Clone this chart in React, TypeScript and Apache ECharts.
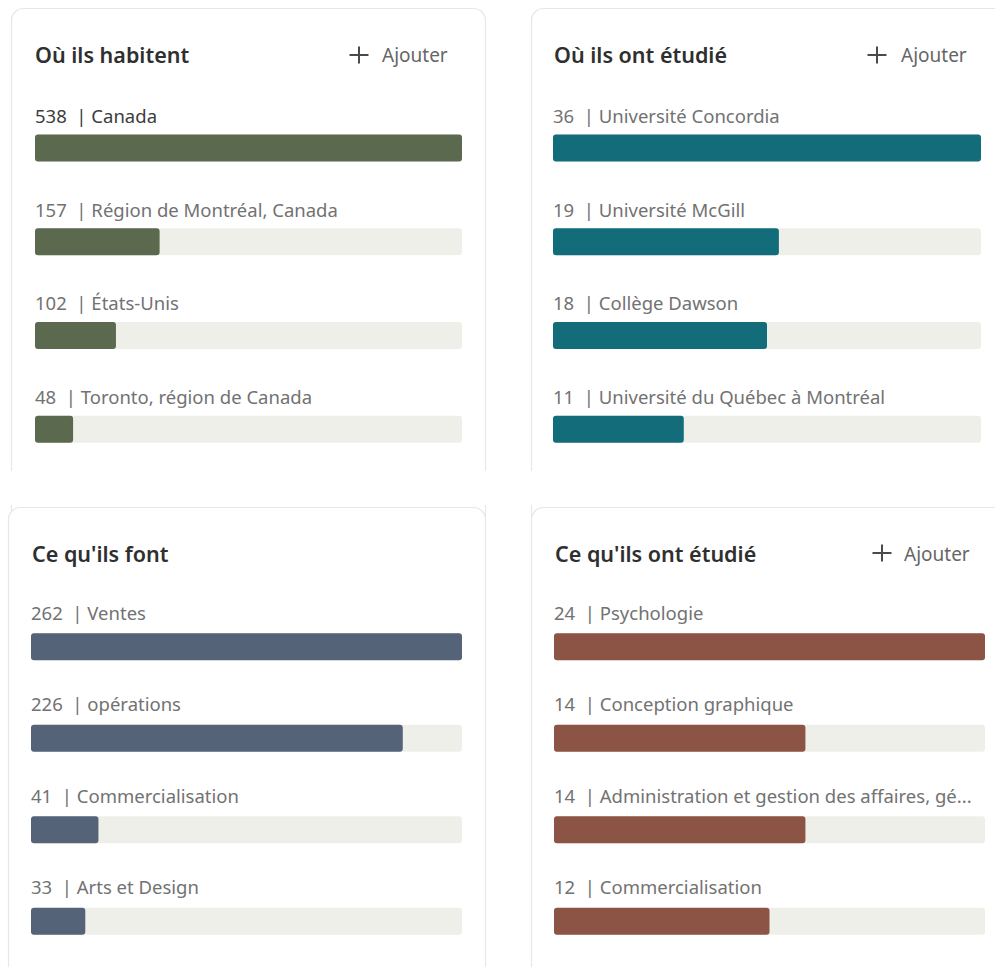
import React, { useEffect, useRef } from "react";
import * as echarts from "echarts";

const cats1 = ["Canada", "Région de Montréal, Canada", "États-Unis", "Toronto, région de Canada"];
const vals1 = [538, 157, 102, 48];
const cats2 = ["Université Concordia", "Université McGill", "Collège Dawson", "Université du Québec à Montréal"];
const vals2 = [36, 19, 18, 11];
const cats3 = ["Ventes", "opérations", "Commercialisation", "Arts et Design"];
const vals3 = [262, 226, 41, 33];
const cats4 = ["Psychologie", "Conception graphique", "Administration et gestion des affaires, gé...", "Commercialisation"];
const vals4 = [24, 14, 14, 12];
const titles = ["Où ils habitent", "Où ils ont étudié", "Ce qu'ils font", "Ce qu'ils ont étudié"];
const addLabel = "Ajouter";

const FONT = "'Noto Sans', 'Open Sans', sans-serif";
const colors = ["#5b6a4f", "#136c79", "#546378", "#8b5444"];
const TRACK = "#efefea";

const grids = [
  { left: 35, top: 101, width: 427, height: 375 },
  { left: 553, top: 101, width: 428, height: 375 },
  { left: 31, top: 601, width: 431, height: 379 },
  { left: 554, top: 601, width: 431, height: 379 },
];
const labelOffsets = [-19, -19, -21, -21];

export default function App() {
  const ref = useRef<HTMLDivElement>(null);
  useEffect(() => {
    if (!ref.current) return;
    const chart = echarts.init(ref.current, null, { renderer: "svg" });
    const cats = [cats1, cats2, cats3, cats4];
    const vals = [vals1, vals2, vals3, vals4];

    const series = vals.map((v, i) => ({
      type: "bar",
      xAxisIndex: i,
      yAxisIndex: i,
      data: v.map((val, j) => ({
        value: val,
        label: i === 0 && j === 0 ? { color: "#3c3c3c" } : undefined,
      })),
      barWidth: 27,
      itemStyle: { color: colors[i], borderRadius: 3 },
      showBackground: true,
      backgroundStyle: { color: TRACK, borderRadius: 3 },
      label: {
        show: true,
        position: [0, labelOffsets[i]],
        align: "left",
        verticalAlign: "middle",
        fontFamily: FONT,
        fontSize: 18.5,
        color: "#727272",
        formatter: (p: any) => `${p.value}  | ${p.name}`,
      },
      silent: true,
    }));

    const plus = (cx: number, cy: number) => [
      { type: "line", shape: { x1: cx - 9.5, y1: cy, x2: cx + 9.5, y2: cy }, style: { stroke: "#4a4a4a", lineWidth: 2 } },
      { type: "line", shape: { x1: cx, y1: cy - 8.5, x2: cx, y2: cy + 8.5 }, style: { stroke: "#4a4a4a", lineWidth: 2 } },
    ];
    const titleText = (x: number, y: number, t: string) => ({
      type: "text",
      x,
      y,
      style: { text: t, font: `600 21.5px ${FONT}`, fill: "#2f2f2f", textVerticalAlign: "middle", textAlign: "left" },
    });
    const addText = (x: number, y: number) => ({
      type: "text",
      x,
      y,
      style: { text: addLabel, font: `19px ${FONT}`, fill: "#666666", textVerticalAlign: "middle", textAlign: "left" },
    });
    const card = (x: number, y: number, w: number, h: number) => ({
      type: "rect",
      shape: { x: x + 0.5, y: y + 0.5, width: w, height: h, r: 12 },
      style: { fill: "#ffffff", stroke: "#e7e7e7", lineWidth: 1.2 },
    });

    const graphic = [
      card(11, 8, 474, 520),
      card(531, 8, 520, 520),
      { type: "rect", shape: { x: 0, y: 471, width: 995, height: 34 }, style: { fill: "#ffffff" } },
      card(8, 507, 477, 520),
      card(531, 507, 520, 520),
      titleText(35, 54, titles[0]),
      titleText(554, 54, titles[1]),
      titleText(32, 553, titles[2]),
      titleText(555, 553, titles[3]),
      ...plus(359, 55),
      addText(382, 55),
      ...plus(877, 55),
      addText(901, 55),
      ...plus(882, 553),
      addText(904, 554),
    ];

    chart.setOption({
      animation: false,
      backgroundColor: "#ffffff",
      grid: grids.map((g) => ({ ...g, containLabel: false })),
      xAxis: vals.map((v, i) => ({
        type: "value",
        gridIndex: i,
        min: 0,
        max: Math.max(...v),
        show: false,
      })),
      yAxis: cats.map((c, i) => ({
        type: "category",
        gridIndex: i,
        data: c,
        inverse: true,
        show: false,
      })),
      graphic: { elements: graphic },
      series,
    } as any);
    return () => chart.dispose();
  }, []);
  return (
    <div
      ref={ref}
      style={{ position: "absolute", left: 0, top: 0, width: 995, height: 967, background: "#fff" }}
    />
  );
}
